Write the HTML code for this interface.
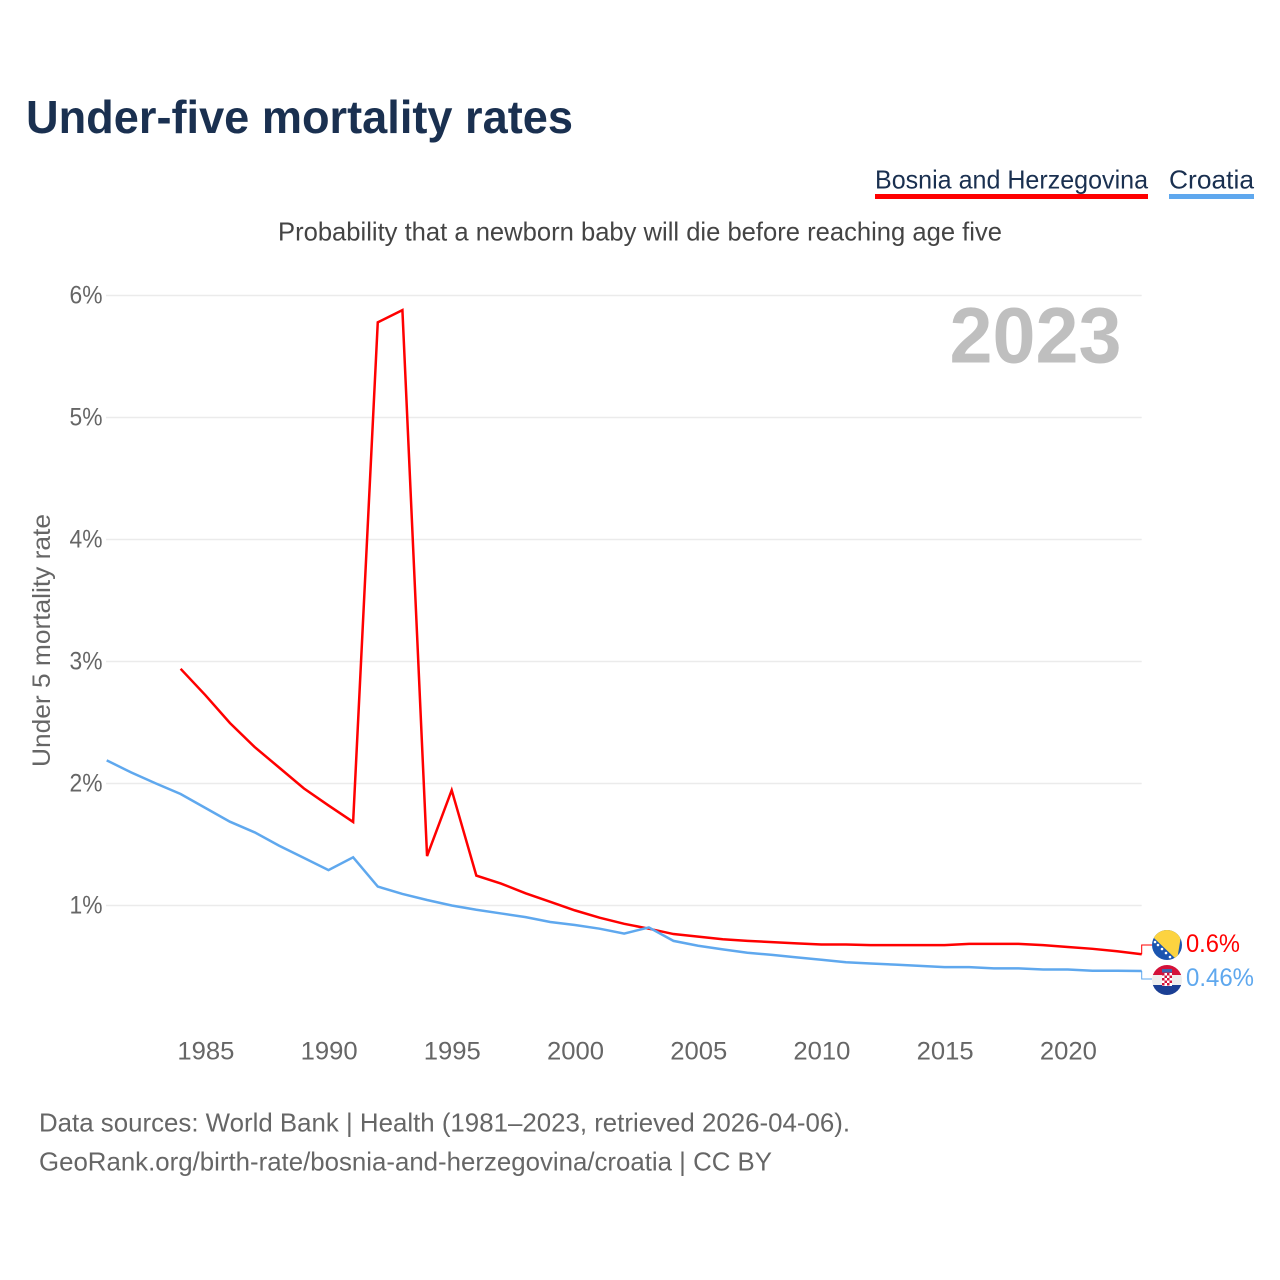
<!DOCTYPE html>
<html lang="en">
<head>
<meta charset="utf-8">
<title>Under-five mortality rates</title>
<style>
html,body{margin:0;padding:0;background:#fff;width:1280px;height:1280px;overflow:hidden}
svg{display:block;font-family:"Liberation Sans",sans-serif}
</style>
</head>
<body>
<svg id="chart" xmlns="http://www.w3.org/2000/svg" width="1280" height="1280" viewBox="0 0 1280 1280">
  <rect width="1280" height="1280" fill="#fff"/>
  <text x="26" y="133" font-size="46" font-weight="700" fill="#1a3050" textLength="547" lengthAdjust="spacingAndGlyphs">Under-five mortality rates</text>
  <g>
    <g>
      <text x="875" y="188.500" font-size="26" fill="#1a3050" textLength="273" lengthAdjust="spacingAndGlyphs">Bosnia and Herzegovina</text>
      <rect x="875" y="194" width="273" height="5" fill="#ff0000"/>
    </g>
    <g>
      <text x="1169" y="188.500" font-size="26" fill="#1a3050" textLength="85" lengthAdjust="spacingAndGlyphs">Croatia</text>
      <rect x="1169" y="194" width="85" height="5" fill="#5fa8ee"/>
    </g>
  </g>
  <text x="278" y="240.500" font-size="26" fill="#444" textLength="724" lengthAdjust="spacingAndGlyphs">Probability that a newborn baby will die before reaching age five</text>
  <g id="grid"></g>
  <g id="ytick-labels"></g>
  <g id="xtick-labels"></g>
  <text transform="translate(50,767) rotate(-90)" x="0" y="0" font-size="25" fill="#666" textLength="253" lengthAdjust="spacingAndGlyphs">Under 5 mortality rate</text>
  <text x="949.500" y="362.500" font-size="79" font-weight="700" fill="#bfbfbf" textLength="172" lengthAdjust="spacingAndGlyphs">2023</text>
  <g id="series"></g>

  <defs>
    <clipPath id="clip-ba"><circle cx="1167" cy="945" r="15"/></clipPath>
    <clipPath id="clip-hr"><circle cx="1167" cy="980" r="15"/></clipPath>
  </defs>
  <g clip-path="url(#clip-ba)">
    <rect x="1152" y="930" width="30" height="30" fill="#1b55b0"/>
    <polygon points="1145.600,930 1182,930 1177,960" fill="#fcd340"/>
    <circle cx="1155" cy="942" r="1.300" fill="#fff"/>
    <circle cx="1158" cy="945" r="1.300" fill="#fff"/>
    <circle cx="1162" cy="949" r="1.300" fill="#fff"/>
    <circle cx="1166" cy="953" r="1.300" fill="#fff"/>
    <circle cx="1170" cy="957" r="1.300" fill="#fff"/>
  </g>
  <g clip-path="url(#clip-hr)">
    <rect x="1152" y="965" width="30" height="10" fill="#d4123a"/>
    <rect x="1152" y="975" width="30" height="10" fill="#eeeeee"/>
    <rect x="1152" y="985" width="30" height="10" fill="#1b3f94"/>
    <rect x="1162" y="973" width="10" height="13" fill="#fff"/>
    <path d="M1162 973h2.5v2.5h-2.5zM1167 973h2.5v2.5h-2.5zM1164.500 975.500h2.500v2.500h-2.500zM1169.500 975.500h2.500v2.500h-2.500zM1162 978h2.500v2.500h-2.500zM1167 978h2.500v2.500h-2.500zM1164.500 980.500h2.500v2.500h-2.500zM1169.500 980.500h2.500v2.500h-2.500zM1162 983h2.500v2.500h-2.500zM1167 983h2.500v2.500h-2.500z" fill="#d4123a"/>
    <rect x="1162" y="969" width="10" height="3.500" fill="#3a66b0"/>
  </g>
  <g id="end-labels"></g>
  <text x="39" y="1131.500" font-size="26" fill="#666" textLength="811" lengthAdjust="spacingAndGlyphs">Data sources: World Bank | Health (1981–2023, retrieved 2026-04-06).</text>
  <text x="39" y="1170.500" font-size="26" fill="#666" textLength="733" lengthAdjust="spacingAndGlyphs">GeoRank.org/birth-rate/bosnia-and-herzegovina/croatia | CC BY</text>
</svg>
<script>
const yTicks = [1, 2, 3, 4, 5, 6];
const xTicks = [1985, 1990, 1995, 2000, 2005, 2010, 2015, 2020];
const bosniaYears = [1984,1985,1986,1987,1988,1989,1990,1991,1992,1993,1994,1995,1996,1997,1998,1999,2000,2001,2002,2003,2004,2005,2006,2007,2008,2009,2010,2011,2012,2013,2014,2015,2016,2017,2018,2019,2020,2021,2022,2023];
const bosniaValues = [2.94,2.725,2.496,2.30,2.13,1.96,1.82,1.685,5.78,5.88,1.405,1.945,1.245,1.18,1.10,1.03,0.96,0.90,0.85,0.81,0.766,0.745,0.723,0.71,0.70,0.69,0.68,0.68,0.675,0.675,0.675,0.675,0.685,0.685,0.685,0.675,0.66,0.645,0.625,0.60];
const croatiaYears = [1981,1982,1983,1984,1985,1986,1987,1988,1989,1990,1991,1992,1993,1994,1995,1996,1997,1998,1999,2000,2001,2002,2003,2004,2005,2006,2007,2008,2009,2010,2011,2012,2013,2014,2015,2016,2017,2018,2019,2020,2021,2022,2023];
const croatiaValues = [2.19,2.09,2.0,1.914,1.80,1.687,1.60,1.49,1.39,1.29,1.395,1.155,1.095,1.045,1.0,0.965,0.935,0.905,0.865,0.84,0.81,0.77,0.82,0.71,0.67,0.64,0.613,0.595,0.575,0.555,0.535,0.525,0.515,0.505,0.495,0.495,0.485,0.485,0.475,0.475,0.465,0.465,0.463];
const endLabelBosnia = "0.6%";
const endLabelCroatia = "0.46%";

const NS = "http://www.w3.org/2000/svg";
const X0 = 106.7, X1 = 1141.7, YEAR0 = 1981, YEAR1 = 2023;
const xScale = y => X0 + (y - YEAR0) * (X1 - X0) / (YEAR1 - YEAR0);
const yScale = v => 905.5 - (v - 1) * 122;

function mk(tag, attrs, parent, text) {
  const el = document.createElementNS(NS, tag);
  for (const k in attrs) el.setAttribute(k, attrs[k]);
  if (text !== undefined) el.textContent = text;
  parent.appendChild(el);
  return el;
}

const gridG = document.getElementById('grid');
const yG = document.getElementById('ytick-labels');
const xG = document.getElementById('xtick-labels');
const seriesG = document.getElementById('series');
const endG = document.getElementById('end-labels');

yTicks.forEach(t => {
  const line = mk('line', {x1: 106, x2: X1, y1: yScale(t), y2: yScale(t), stroke: '#ebebeb', 'stroke-width': 1.5}, gridG);
  
  
  const lab = mk('text', {x: 102.5, y: yScale(t) + 8, 'font-size': 25, fill: '#666', 'text-anchor': 'end', textLength: 33, lengthAdjust: 'spacingAndGlyphs'}, yG, t + '%');
  
  
});

xTicks.forEach(t => {
  const lab = mk('text', {x: xScale(t) + 0.6, y: 1059.5, 'font-size': 25, fill: '#666', 'text-anchor': 'middle', textLength: 57, lengthAdjust: 'spacingAndGlyphs'}, xG, String(t));
  
  
});

function pathOf(years, values) {
  return years.map((y, i) => (i ? 'L' : 'M') + xScale(y).toFixed(2) + ' ' + yScale(values[i]).toFixed(2)).join(' ');
}

const lineB = mk('path', {d: pathOf(bosniaYears, bosniaValues), fill: 'none', stroke: '#ff0000', 'stroke-width': 2.5, 'stroke-linejoin': 'miter'}, seriesG);



const lineC = mk('path', {d: pathOf(croatiaYears, croatiaValues), fill: 'none', stroke: '#5fa8ee', 'stroke-width': 2.5, 'stroke-linejoin': 'miter'}, seriesG);



const lastB = yScale(bosniaValues[bosniaValues.length - 1]);
const lastC = yScale(croatiaValues[croatiaValues.length - 1]);

const connB = mk('path', {d: 'M' + X1 + ' ' + lastB.toFixed(2) + ' V945 H1152', fill: 'none', stroke: '#ff0000', 'stroke-width': 1}, endG);



const connC = mk('path', {d: 'M' + X1 + ' ' + lastC.toFixed(2) + ' V979 H1152', fill: 'none', stroke: '#5fa8ee', 'stroke-width': 1}, endG);



const labB = mk('text', {x: 1186, y: 952, 'font-size': 25, fill: '#ff0000', textLength: 54, lengthAdjust: 'spacingAndGlyphs'}, endG, endLabelBosnia);



const labC = mk('text', {x: 1186, y: 986, 'font-size': 25, fill: '#5fa8ee', textLength: 68, lengthAdjust: 'spacingAndGlyphs'}, endG, endLabelCroatia);


</script>
</body>
</html>
